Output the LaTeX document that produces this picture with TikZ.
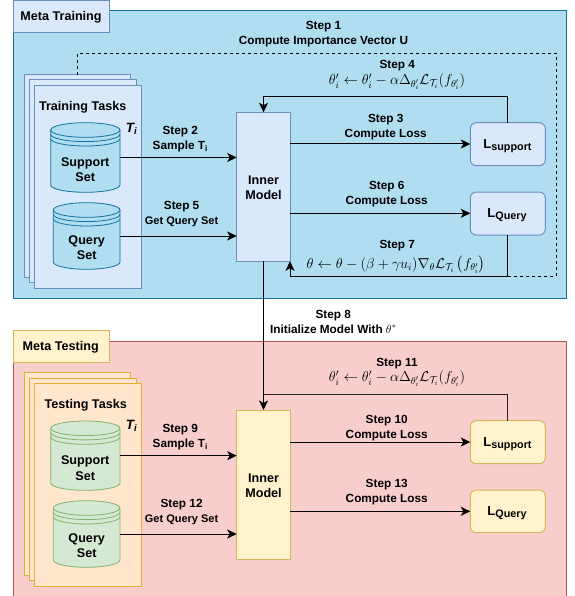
\documentclass[tikz,border=0pt]{standalone}
\usepackage{amsmath}
\usepackage{fontspec}
\setmainfont{Liberation Sans}
\usetikzlibrary{arrows.meta}
\definecolor{panelB}{HTML}{B1DDF0}\definecolor{panelBd}{HTML}{10739E}
\definecolor{cardB}{HTML}{DAE8FC}\definecolor{cardBd}{HTML}{6C8EBF}
\definecolor{panelR}{HTML}{F8CECC}\definecolor{panelRd}{HTML}{B85450}
\definecolor{tabY}{HTML}{FFF2CC}\definecolor{tabYd}{HTML}{D6B656}
\definecolor{cardO}{HTML}{FFE6CC}\definecolor{cardOd}{HTML}{E3AE36}
\definecolor{cylG}{HTML}{D5E8D4}\definecolor{cylGd}{HTML}{82B366}
\tikzset{
  boxbase/.style={rectangle,inner sep=0pt,outer sep=0pt,line width=1pt,align=center,font=\fontsize{12}{15.6}\selectfont\bfseries},
  panelblue/.style={boxbase,fill=panelB,draw=panelBd},
  panelred/.style={boxbase,fill=panelR,draw=panelRd},
  blueitem/.style={boxbase,fill=cardB,draw=cardBd},
  yellowitem/.style={boxbase,fill=tabY,draw=tabYd},
  orangecard/.style={boxbase,fill=cardO,draw=cardOd},
  lossblue/.style={blueitem,rounded corners=6pt},
  lossyellow/.style={yellowitem,rounded corners=6pt},
  cylblue/.style={fill=panelB,draw=panelBd,line width=0.8pt},
  cylgreen/.style={fill=cylG,draw=cylGd,line width=0.8pt},
  lab/.style={inner sep=0pt,outer sep=0pt,yshift=-1.2pt,align=center,font=\fontsize{11.8}{15}\selectfont\bfseries},
  ttl/.style={lab,font=\fontsize{12.6}{15.6}\selectfont\bfseries},
  tee/.style={lab,font=\fontsize{13.5}{15}\selectfont\bfseries\itshape},
  mathlab/.style={inner sep=0pt,outer sep=0pt,font=\fontsize{14.2}{15}\selectfont},
  flow/.style={line width=1pt,draw=black,-{Stealth[length=9.5pt,width=9pt,inset=2.5pt]}},
  plain/.style={line width=1pt,draw=black!85},
  dashline/.style={line width=1pt,draw=black,dash pattern=on 3pt off 3pt},
}
\newcommand{\boxt}[7]{\node[#1,minimum width={(#4-#2)*1pt},minimum height={(#5-#3)*1pt}] (#6) at ({(#2+#4)/2},{(#3+#5)/2}) {#7};}
\newcommand{\lossname}[1]{{\fontsize{13}{15}\selectfont L}{\fontsize{10.8}{15}\selectfont\raisebox{-2.5pt}{#1}}}
% name, x1, x2, top, bottom, style
\newcommand{\dbcyl}[6]{%
  \pgfmathsetmacro{\xc}{(#2+#3)/2}\pgfmathsetmacro{\rx}{(#3-#2)/2}%
  \pgfmathsetmacro{\kx}{0.5523*\rx}\pgfmathsetmacro{\ky}{0.5523*7.3}%
  \pgfmathsetmacro{\yt}{#4+7.3}\pgfmathsetmacro{\yb}{#5-7.3}%
  \draw[#6] (#2,\yt) .. controls (#2,\yt-\ky) and (\xc-\kx,#4) .. (\xc,#4)
     .. controls (\xc+\kx,#4) and (#3,\yt-\ky) .. (#3,\yt) -- (#3,\yb)
     .. controls (#3,\yb+\ky) and (\xc+\kx,#5) .. (\xc,#5)
     .. controls (\xc-\kx,#5) and (#2,\yb+\ky) .. (#2,\yb) -- cycle;
  \foreach \off in {0,4.3,8.7}{%
    \draw[#6,fill=none] (#2,\yt+\off) .. controls (#2,\yt+\off+\ky) and (\xc-\kx,\yt+\off+7.3) .. (\xc,\yt+\off+7.3)
       .. controls (\xc+\kx,\yt+\off+7.3) and (#3,\yt+\off+\ky) .. (#3,\yt+\off);}
  \node[inner sep=0pt,outer sep=0pt,minimum width={(#3-#2)*1pt},minimum height={(#5-#4)*1pt}] (#1) at (\xc,{(#4+#5)/2}) {};
}
\newcommand{\innerupd}{$\theta_i' \leftarrow \theta_i' - \alpha\Delta_{\theta_i'}\mathcal{L}_{\mathcal{T}_i}(f_{\theta_i'})$}
\begin{document}
\begin{tikzpicture}[x=1pt,y=-1pt]
\useasboundingbox (0,0) rectangle (574,596);
\clip (0,0) rectangle (574,596);
% ---------- Meta Training
\boxt{panelblue}{13.5}{11}{566}{298.5}{ptrain}{}
\boxt{blueitem}{13.5}{0.5}{109.5}{32.5}{ttrain}{}
\node[ttl] (ttrainl) at (61,16) {Meta Training};
\boxt{blueitem}{24}{74.7}{130.7}{277}{tk1}{}
\boxt{blueitem}{29.3}{80}{136}{282.7}{tk2}{}
\boxt{blueitem}{34.7}{85.3}{141.3}{288}{tk3}{}
\node[ttl] (tkl) at (82.7,106.3) {Training Tasks};
\node[tee] (ti1) at (131.5,128) {T\textsubscript{i}};
\dbcyl{sup}{50.7}{120}{122.7}{192.3}{cylblue}
\node[ttl] (supl) at (85.2,168.5) {Support\\Set};
\dbcyl{qry}{53.3}{120}{202.7}{269.3}{cylblue}
\node[ttl] (qryl) at (86.7,246.5) {Query\\Set};
\boxt{blueitem}{236.7}{112.3}{290.3}{261.3}{im}{}
\node[ttl] (iml) at (263.5,186.5) {Inner\\Model};
\boxt{lossblue}{470.3}{122.7}{545.3}{165.7}{ls}{}
\node[ttl] (lsl) at (507.5,145) {\lossname{support}};
\boxt{lossblue}{470.3}{192}{545.3}{235}{lq}{}
\node[ttl] (lql) at (507,214) {\lossname{Query}};
% ---------- Meta Testing
\boxt{panelred}{13.5}{341}{566}{602}{ptest}{}
\boxt{yellowitem}{13.5}{330.3}{109.5}{362.3}{ttest}{}
\node[ttl] (ttestl) at (60.7,345.7) {Meta Testing};
\boxt{orangecard}{24}{372.7}{130.7}{575.3}{tt1}{}
\boxt{orangecard}{29.3}{378}{136}{580.7}{tt2}{}
\boxt{orangecard}{34.7}{383.3}{141.3}{586}{tt3}{}
\node[ttl] (ttl2) at (85.7,404.3) {Testing Tasks};
\node[tee] (ti2) at (131.5,424.7) {T\textsubscript{i}};
\dbcyl{supt}{50.7}{120}{421}{490.3}{cylgreen}
\node[ttl] (suptl) at (85.2,466.8) {Support\\Set};
\dbcyl{qryt}{53.3}{120}{500.7}{567.3}{cylgreen}
\node[ttl] (qrytl) at (86.7,544.5) {Query\\Set};
\boxt{yellowitem}{236.7}{410}{290.3}{559.3}{imt}{}
\node[ttl] (imtl) at (263.5,484.5) {Inner\\Model};
\boxt{lossyellow}{470.3}{420.7}{545.3}{463.7}{lst}{}
\node[ttl] (lstl) at (507.5,443) {\lossname{support}};
\boxt{lossyellow}{470.3}{490}{545.3}{532.7}{lqt}{}
\node[ttl] (lqtl) at (507,512) {\lossname{Query}};
% ---------- helper coordinates
\coordinate (c4) at (263.5,96.3);
\coordinate (c7) at (290,276.7);
\coordinate (d1) at (556,53.3);
\coordinate (c11) at (263.5,394);
\coordinate (a3) at (290,144);
\coordinate (a6) at (290,213.3);
\coordinate (a10) at (290,442);
\coordinate (a13) at (290,511.3);
% ---------- connectors
\draw[dashline] (tk1.north) |- (d1) -- (d1 |- c7) -- (c7 -| lq.south);
\draw[flow] (sup.east) -- (sup.east -| im.west);
\draw[flow] (qry.east) -- (qry.east -| im.west);
\draw[flow] (a3 -| im.east) -- (a3 -| ls.west);
\draw[flow] (a6 -| im.east) -- (a6 -| lq.west);
\draw[flow] (ls.north) |- (c4) -- (im.north);
\draw[flow] (lq.south) |- (c7) -- (c7 |- im.south);
\draw[flow] (im.south) -- (imt.north);
\draw[flow] (supt.east) -- (supt.east -| imt.west);
\draw[flow] (qryt.east) -- (qryt.east -| imt.west);
\draw[flow] (a10 -| imt.east) -- (a10 -| lst.west);
\draw[flow] (a13 -| imt.east) -- (a13 -| lqt.west);
\draw[plain] (lst.north) |- (c11);
% ---------- labels
\node[lab] (s1) at (323.5,33.2) {Step 1\\Compute Importance Vector U};
\node[lab] (s2) at (180.3,138) {Step 2\\Sample T\textsubscript{i}};
\node[lab] (s3) at (385.7,125.8) {Step 3\\Compute Loss};
\node[lab] (s4) at (397.3,64) {Step 4};
\node[mathlab] (f4) at (397,82) {\innerupd};
\node[lab] (s5) at (181.6,213) {Step 5\\\fontsize{11}{15}\selectfont Get Query Set};
\node[lab] (s6) at (386.7,192.5) {Step 6\\Compute Loss};
\node[lab] (s7) at (397.3,244) {Step 7};
\node[mathlab] (f7) at (396,265) {$\theta \leftarrow \theta - (\beta + \gamma u_i)\nabla_{\theta}\mathcal{L}_{\mathcal{T}_i}\left(f_{\theta_i'}\right)$};
\node[lab] (s8) at (333.3,320.5) {Step 8\\Initialize Model With $\theta^{*}$};
\node[lab] (s9) at (180.3,436) {Step 9\\Sample T\textsubscript{i}};
\node[lab] (s10) at (386.7,427) {Step 10\\Compute Loss};
\node[lab] (s11) at (397,362) {Step 11};
\node[mathlab] (f11) at (397,379) {\innerupd};
\node[lab] (s12) at (181.6,511.2) {Step 12\\\fontsize{11}{15}\selectfont Get Query Set};
\node[lab] (s13) at (386.7,490.8) {Step 13\\Compute Loss};
\end{tikzpicture}
\end{document}
